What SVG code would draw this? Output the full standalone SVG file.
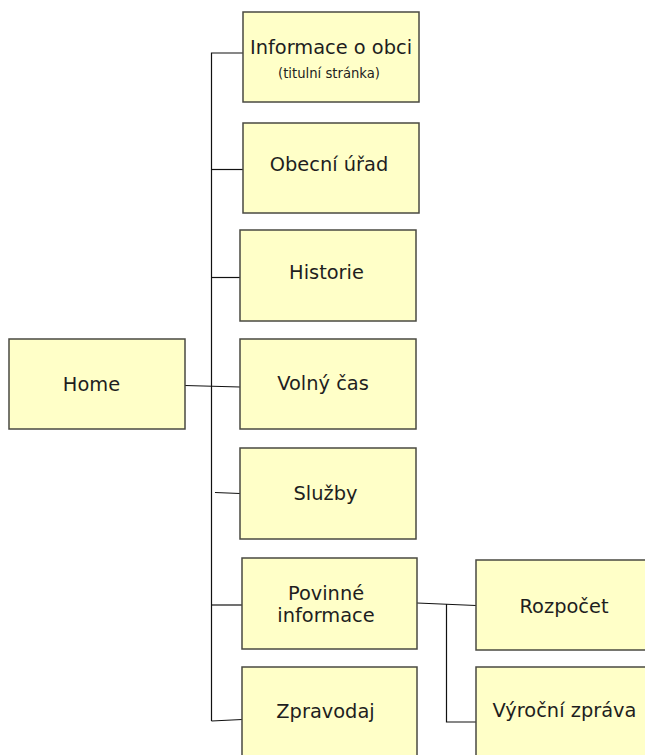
<svg xmlns="http://www.w3.org/2000/svg" width="645" height="755" viewBox="0 0 645 755">
<style>
.box{fill:#ffffc8;stroke:#4a4a42;stroke-width:1.5}
.t{font-family:"DejaVu Sans","Verdana",sans-serif;font-size:19.4px;fill:#1e1e1e;text-anchor:middle}
.s{font-family:"DejaVu Sans","Verdana",sans-serif;font-size:13.2px;fill:#222;text-anchor:middle}
.c{stroke:#111;stroke-width:1.2;fill:none}
</style>
<rect width="645" height="755" fill="#fff"/>
<g id="connectors">
<polyline class="c" points="243,53 211.5,53 211.5,721"/>
<line class="c" x1="211.5" y1="169.5" x2="243" y2="169.5"/>
<line class="c" x1="211.5" y1="277.5" x2="240" y2="277.5"/>
<line class="c" x1="185" y1="385.5" x2="240" y2="387"/>
<line class="c" x1="215" y1="492.5" x2="240" y2="493.5"/>
<line class="c" x1="211.5" y1="605" x2="242" y2="605"/>
<line class="c" x1="211.5" y1="721" x2="242" y2="719.5"/>
<line class="c" x1="417" y1="603" x2="476" y2="605.5"/>
<polyline class="c" points="446.5,604 446.5,722 476,722"/>
</g>
<g id="home"><rect class="box" x="9" y="339" width="176" height="90"/><text class="t" x="91.5" y="391">Home</text></g>
<g id="informace"><rect class="box" x="243" y="12" width="176" height="90"/><text class="t" x="331" y="54">Informace o obci</text><text class="s" x="329" y="78">(titulní stránka)</text></g>
<g id="obecni-urad"><rect class="box" x="243" y="123" width="176" height="90"/><text class="t" x="329" y="171">Obecní úřad</text></g>
<g id="historie"><rect class="box" x="240" y="230" width="176" height="91"/><text class="t" x="326.5" y="279">Historie</text></g>
<g id="volny-cas"><rect class="box" x="240" y="339" width="176" height="90"/><text class="t" x="323" y="390">Volný čas</text></g>
<g id="sluzby"><rect class="box" x="240" y="448" width="176" height="91"/><text class="t" x="325.5" y="500">Služby</text></g>
<g id="povinne"><rect class="box" x="242" y="558" width="175" height="91"/><text class="t" x="326" y="600">Povinné</text><text class="t" x="326" y="621.5">informace</text></g>
<g id="zpravodaj"><rect class="box" x="242" y="667" width="175" height="92"/><text class="t" x="325.5" y="718">Zpravodaj</text></g>
<g id="rozpocet"><rect class="box" x="476" y="560" width="176" height="90"/><text class="t" x="564" y="612.5">Rozpočet</text></g>
<g id="vyrocni"><rect class="box" x="476" y="667" width="176" height="92"/><text class="t" x="564.5" y="716.5">Výroční zpráva</text></g>
</svg>
